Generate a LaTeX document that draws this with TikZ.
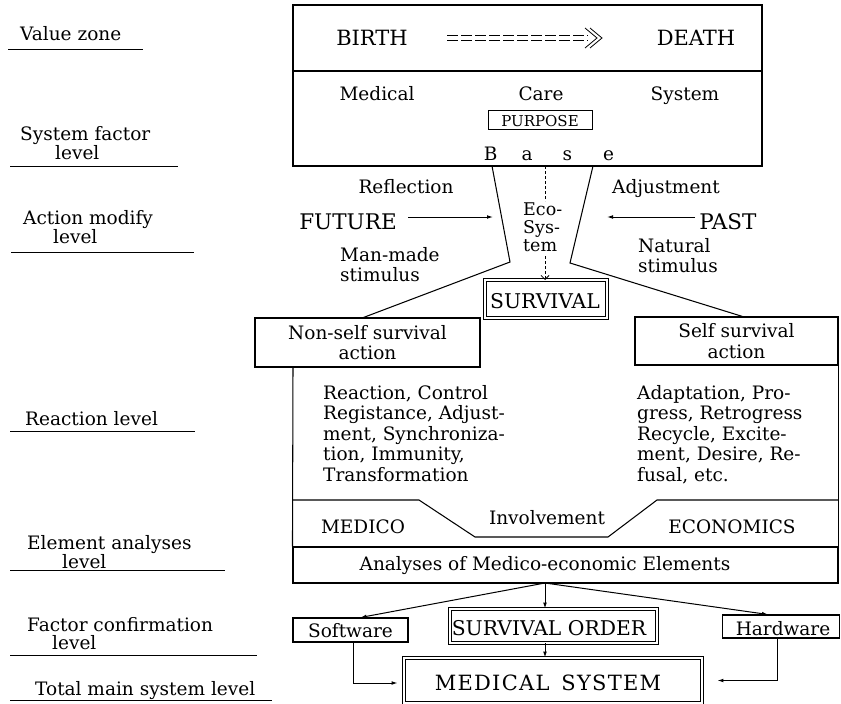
\documentclass[tikz,border=0pt]{standalone}
\usepackage{fontspec}
\setmainfont{DejaVu Serif}
\usetikzlibrary{arrows.meta,calc}
\begin{document}
\begin{tikzpicture}[x=1pt,y=-1pt,
  every node/.style={font=\fontsize{18.5}{20.5}\selectfont, inner sep=0pt},
  box/.style={draw, line width=1.05pt, inner sep=0pt},
  dbox/.style={draw, line width=0.9pt, double, double distance=1.6pt, inner sep=0pt},
  txt/.style={anchor=base},
  bigcaps/.style={anchor=base, font=\fontsize{21}{21}\selectfont},
  midcaps/.style={anchor=base, font=\fontsize{20.3}{21}\selectfont},
  blk/.style={anchor=north west, align=left},
  lbl/.style={anchor=north west, align=left, font=\fontsize{18.5}{18}\selectfont},
  rule/.style={line width=1pt},
  ln/.style={line width=1.05pt},
  arr/.style={line width=1pt, -{Latex[length=6pt,width=3.8pt]}},
  darr/.style={line width=0.8pt, dash pattern=on 3pt off 2pt, -{Straight Barb[length=4pt,width=8pt]}},
  dline/.style={line width=0.8pt, dash pattern=on 3pt off 2pt},
]
\useasboundingbox (0,0) rectangle (841,704);

% ---------- level labels on the left ----------
\node[anchor=base west] (lv1) at (20,40) {Value zone};
\draw[rule] (8,49) -- (143,49);
\node[lbl] (lv2) at (20,126) {System factor\\\hspace*{35pt}level};
\draw[rule] (10,166) -- (178,166);
\node[lbl] (lv3) at (23,210) {Action modify\\\hspace*{30pt}level};
\draw[rule] (11,252) -- (194,252);
\node[anchor=base west] (lv4) at (25,425) {Reaction level};
\draw[rule] (10,431) -- (195,431);
\node[lbl] (lv5) at (27,535) {Element analyses\\\hspace*{35pt}level};
\draw[rule] (10,570) -- (225,570);
\node[lbl] (lv6) at (27,617) {Factor confirmation\\\hspace*{25pt}level};
\draw[rule] (10,655) -- (257,655);
\node[anchor=base west] (lv7) at (35,695) {Total main system level};
\draw[rule] (10,700) -- (272,700);

% ---------- value zone and system factor box ----------
\node[box, minimum width=469pt, minimum height=66pt] (value) at (527.5,38) {};
\node[box, minimum width=469pt, minimum height=95pt] (system) at (527.5,118.5) {};
\node[bigcaps] (birth) at (372,45) {BIRTH};
\node[bigcaps] (death) at (696,45) {DEATH};
\coordinate (bd1) at (447,38);
\coordinate (bd2) at (602,38);
\draw[ln, dash pattern=on 11pt off 3pt] ($(bd1)+(0,-2.5)$) -- ($(bd2)+(-14,-2.5)$);
\draw[ln, dash pattern=on 11pt off 3pt] ($(bd1)+(0,2.5)$) -- ($(bd2)+(-14,2.5)$);
\draw[line width=0.8pt] ($(bd2)+(-17,-10)$) -- ($(bd2)+(-5,0)$) -- ($(bd2)+(-17,10)$);
\draw[line width=0.8pt] ($(bd2)+(-12,-10)$) -- (bd2) -- ($(bd2)+(-12,10)$);

\node[txt] (medical) at (377,100) {Medical};
\node[txt] (care) at (541,100) {Care};
\node[txt] (systemw) at (685,100) {System};
\node[box, line width=0.9pt, minimum width=104pt, minimum height=19pt] (purpose) at (540,120) {};
\node[txt, font=\fontsize{15}{15}\selectfont] (purposet) at (540,126) {PURPOSE};
\node[anchor=base] (base) at (549,160) {B\hspace{24pt}a\hspace{30pt}s\hspace{31pt}e};

% ---------- action modify level ----------
\node[txt] (reflection) at (406,193) {Reflection};
\node[txt] (adjustment) at (666,193) {Adjustment};
\node[bigcaps, font=\fontsize{21.5}{21.5}\selectfont] (future) at (348,229) {FUTURE};
\node[bigcaps, font=\fontsize{21.5}{21.5}\selectfont] (past) at (728,229) {PAST};
\coordinate (ftip) at (493,217);
\coordinate (ptip) at (607,217);
\draw[arr] (408,217) -- (ftip);
\draw[arr] (695,217) -- (ptip);
\node[blk] (manmade) at (340,247) {Man-made\\stimulus};
\node[blk] (natural) at (638,238) {Natural\\stimulus};
\node[blk, font=\fontsize{17.5}{18}\selectfont] (eco) at (523,203) {Eco-\\Sys-\\tem};

% ---------- survival ----------
\node[dbox, minimum width=122pt, minimum height=38pt] (survival) at (546,299) {};
\node[midcaps] (survivalt) at (545,308) {SURVIVAL};
\node[box, minimum width=225pt, minimum height=49pt, align=center] (nonself) at (367.5,342.5) {Non-self survival\\action};
\node[box, minimum width=203pt, minimum height=48pt, align=center] (self) at (736.5,341) {Self survival\\action};

% funnel from the base to both survival actions
\coordinate (tl) at (492,166);
\coordinate (vl) at (510,262);
\coordinate (tr) at (593,166);
\coordinate (vr) at (570,263);
\draw[ln] (tl) -- (vl) -- ([xshift=-4pt]nonself.north);
\draw[ln] (tr) -- (vr) -- ([xshift=6pt]self.north);
\draw[dline] (545,166) -- (545,201);
\draw[darr] (545,256) -- (545,280);

% ---------- reaction level ----------
\node[blk] (reactl) at (323,385) {Reaction, Control\\Registance, Adjust-\\ment, Synchroniza-\\tion, Immunity,\\Transformation};
\node[blk] (reactr) at (637,385) {Adaptation, Pro-\\gress, Retrogress\\Recycle, Excite-\\ment, Desire, Re-\\fusal, etc.};

% ---------- element analyses ----------
\node[box, minimum width=545pt, minimum height=36pt] (analyses) at (565.5,565) {};
\node[txt] (analysest) at (545,570) {Analyses of Medico-economic Elements};
\coordinate (reactL) at (293,367);
\draw[ln] (reactL) -- (analyses.north west);
\draw[ln] (self.south east) -- (analyses.north east);
\draw[ln] (293,500) -- (419,500) -- (475,537) -- (608,537) -- (657,500) -- (838,500);
\node[txt] (medico) at (363,533) {MEDICO};
\node[txt] (involvement) at (547,524) {Involvement};
\node[txt] (economics) at (732,533) {ECONOMICS};

% ---------- factor confirmation ----------
\coordinate (hub) at (545,583);
\node[box, minimum width=115pt, minimum height=24pt] (software) at (350.5,630) {};
\node[txt] (softwaret) at (350.5,637) {Software};
\node[dbox, minimum width=207pt, minimum height=34pt] (sorder) at (553.5,626) {};
\node[midcaps] (sordert) at (549,635) {SURVIVAL ORDER};
\node[box, minimum width=117pt, minimum height=23pt] (hardware) at (781,626.5) {};
\node[txt] (hardwaret) at (783,635) {Hardware};
\draw[arr] (hub) -- ([xshift=10pt]software.north);
\draw[arr] (hub) -- (hub |- sorder.north);
\draw[arr] (hub) -- ([xshift=-13pt]hardware.north);

% ---------- total main system ----------
\node[dbox, minimum width=298pt, minimum height=45pt] (medsys) at (553,680.5) {};
\node[anchor=base, font=\fontsize{21}{21}\selectfont\addfontfeature{LetterSpace=6}] (medsyst) at (548,690) {MEDICAL\hspace{12pt}SYSTEM};
\draw[arr] (hub |- sorder.south) -- (hub |- medsys.north);
\draw[arr, shorten >=6pt] ([xshift=3pt]software.south) |- ([yshift=-2.5pt]medsys.west);
\draw[arr, shorten >=15pt] ([xshift=-4pt]hardware.south) |- (medsys.east);
\end{tikzpicture}
\end{document}
